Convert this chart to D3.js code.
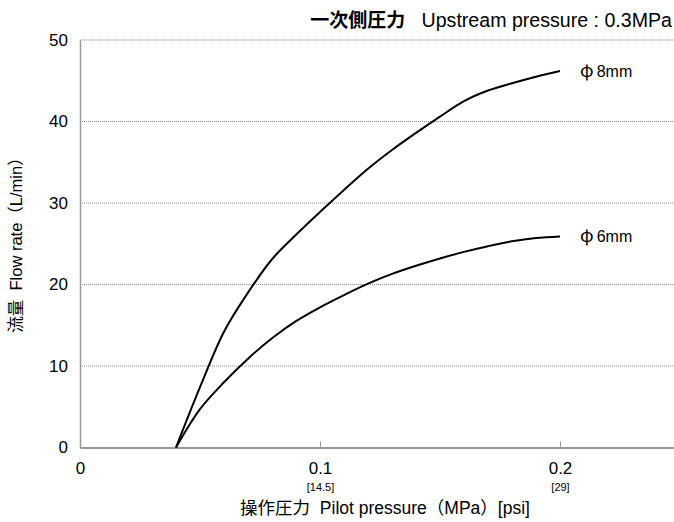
<!DOCTYPE html>
<html><head><meta charset="utf-8">
<script src="https://cdn.jsdelivr.net/npm/d3@7"></script>
<style>
body{margin:0;background:#fff;}
text{font-family:"Liberation Sans","Noto Sans CJK JP",sans-serif;fill:#000;}
.jp{font-family:"Noto Sans CJK JP",sans-serif;}
</style></head>
<body>
<svg id="c" width="674" height="522"></svg>
<script>
const pressure = [0.04,0.05,0.06,0.07,0.08,0.09,0.10,0.11,0.12,0.13,0.14,0.15,0.16,0.17,0.18,0.19,0.20];
const flow8mm = [0,7.4,14.2,19.0,23.1,26.1,28.9,31.6,34.2,36.5,38.6,40.6,42.5,43.8,44.7,45.5,46.2];
const flow6mm = [0,4.7,8.0,10.9,13.4,15.5,17.2,18.7,20.1,21.3,22.3,23.2,24.0,24.7,25.3,25.7,25.9];
const seriesNames = ["8mm","6mm"];
const yTicks = [0,10,20,30,40,50];
const xTicks = [0,0.1,0.2];
const xTickLabels = ["0","0.1","0.2"];
const psiLabels = ["","[14.5]","[29]"];

const svg = d3.select("#c");
const x = d3.scaleLinear().domain([0,0.25]).range([80,680]);
const y = d3.scaleLinear().domain([0,50]).range([447.5,40]);

// gridlines
svg.append("g").selectAll("line").data(yTicks.filter(d=>d>0)).join("line")
  .attr("x1",80).attr("x2",674).attr("y1",d=>y(d)).attr("y2",d=>y(d))
  .attr("stroke","#888").attr("stroke-width",1).attr("stroke-dasharray","1,1");

// y axis
const yAxis = d3.axisLeft(y).tickValues(yTicks).tickSize(0).tickPadding(12).tickFormat(d3.format("d"));
const gy = svg.append("g").attr("transform","translate(80,0)").call(yAxis);
gy.select(".domain").attr("stroke","#999").attr("stroke-width",1.5);
gy.selectAll("text").attr("font-size",17).attr("font-family","Liberation Sans");

// x axis
const xAxis = d3.axisBottom(x).tickValues(xTicks).tickSize(0).tickPadding(0).tickFormat((d,i)=>xTickLabels[i]);
const gx = svg.append("g").attr("transform",`translate(0,${y(0)})`).call(xAxis);
gx.select(".domain").attr("stroke","#999").attr("stroke-width",2);
gx.selectAll(".tick text").attr("font-size",17).attr("dy",null).attr("y",26).attr("font-family","Liberation Sans");
gx.selectAll(".tick").filter(d=>d>0).append("line")
  .attr("y1",0).attr("y2",-6).attr("stroke","#999").attr("stroke-width",1);
gx.selectAll(".tick").append("text").attr("y",43).attr("text-anchor","middle")
  .attr("font-size",11).attr("fill","#000").text((d,i)=>psiLabels[i]);

// curves
const line = d3.line().curve(d3.curveCatmullRom.alpha(0.5)).x(d=>x(d[0])).y(d=>y(d[1]));
const series = [flow8mm, flow6mm];
svg.append("g").selectAll("path").data(series).join("path")
  .attr("d",s=>line(pressure.map((p,i)=>[p,s[i]])))
  .attr("fill","none").attr("stroke","#000").attr("stroke-width",2).attr("stroke-linejoin","round");

// series labels
const lab = svg.append("g").selectAll("text").data(series).join("text")
  .attr("x",580).attr("y",s=>y(s[s.length-1])+6).attr("font-size",16);
lab.append("tspan").attr("class","jp").attr("font-size",18).text("φ");
lab.append("tspan").attr("dx",3).text((s,i)=>seriesNames[i]);

// title
const t = svg.append("text").attr("x",672).attr("y",27).attr("text-anchor","end").attr("font-size",19.6);
t.append("tspan").attr("class","jp").attr("font-weight","bold").attr("font-size",19).text("一次側圧力");
t.append("tspan").text("\u00a0\u00a0\u00a0Upstream pressure : 0.3MPa");

// x axis title
const xt = svg.append("text").attr("x",385).attr("y",514).attr("text-anchor","middle").attr("font-size",17.5);
xt.append("tspan").attr("class","jp").text("操作圧力");
xt.append("tspan").text("\u00a0\u00a0Pilot pressure（MPa）[psi]");

// y axis title
const yt = svg.append("text").attr("transform","translate(22,241) rotate(-90)").attr("text-anchor","middle").attr("font-size",16.5);
yt.append("tspan").attr("class","jp").text("流量");
yt.append("tspan").text("\u00a0\u00a0Flow rate（L/min）");
</script>
</body></html>
